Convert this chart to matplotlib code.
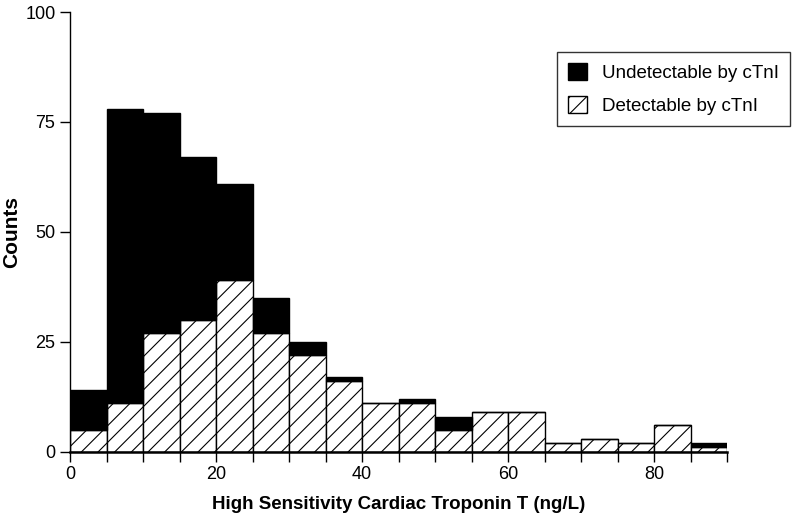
import matplotlib.pyplot as plt
import matplotlib.font_manager as fm
import numpy as np
from matplotlib.patches import Patch

# bin edges (ng/L) and counts per bin
bin_left = [0, 5, 10, 15, 20, 25, 30, 35, 40, 45, 50, 55, 60, 65, 70, 75, 80, 85]
detectable = [5, 11, 27, 30, 39, 27, 22, 16, 11, 11, 5, 9, 9, 2, 3, 2, 6, 1]
undetectable = [9, 67, 50, 37, 22, 8, 3, 1, 0, 1, 3, 0, 0, 0, 0, 0, 0, 1]
bin_width = 5

names = {f.name for f in fm.fontManager.ttflist}
base = 'Liberation Sans' if 'Liberation Sans' in names else 'DejaVu Sans'
plt.rcParams['font.family'] = [base, 'DejaVu Sans']
plt.rcParams['hatch.linewidth'] = 0.8

fig = plt.figure(figsize=(8, 5.23), dpi=100)
ax = fig.add_axes([0.0875, 0.136, 0.8215, 0.841])

ax.bar(bin_left, detectable, width=bin_width, align='edge', color='white',
       edgecolor='black', hatch='//', linewidth=1.0)
ax.bar(bin_left, undetectable, width=bin_width, align='edge', bottom=detectable,
       color='black', edgecolor='black', linewidth=1.0)

ax.set_xlim(0, 90)
ax.set_ylim(0, 100)
ax.set_xticks([0, 20, 40, 60, 80])
ax.set_xticks(np.arange(0, 91, 5), minor=True)
ax.set_yticks([0, 25, 50, 75, 100])
ax.tick_params(axis='both', which='major', labelsize=13, length=7, width=1)
ax.tick_params(axis='x', which='minor', length=7, width=1)
for s in ['top', 'right']:
    ax.spines[s].set_visible(False)
ax.spines['bottom'].set_linewidth(1.8)
ax.spines['left'].set_linewidth(1.0)

ax.set_ylabel('Counts', fontsize=15, fontweight='bold')
ax.yaxis.set_label_coords(-0.074, 0.5)
ax.set_xlabel('High Sensitivity Cardiac Troponin T (ng/L)', fontsize=13.5,
              fontweight='bold', labelpad=9)

handles = [Patch(facecolor='black', edgecolor='black', label='Undetectable by cTnI'),
           Patch(facecolor='white', edgecolor='black', hatch='//', label='Detectable by cTnI')]
leg = ax.legend(handles=handles, loc='upper left', bbox_to_anchor=(0.696, 0.9006),
                bbox_transform=fig.transFigure,
                fontsize=13.5, frameon=True, fancybox=False, edgecolor='black',
                handlelength=1.0, handleheight=1.0, borderpad=0.6, labelspacing=0.75,
                handletextpad=0.8, borderaxespad=0)
leg.get_frame().set_linewidth(1.0)

fig.savefig('out.png', dpi=100)
